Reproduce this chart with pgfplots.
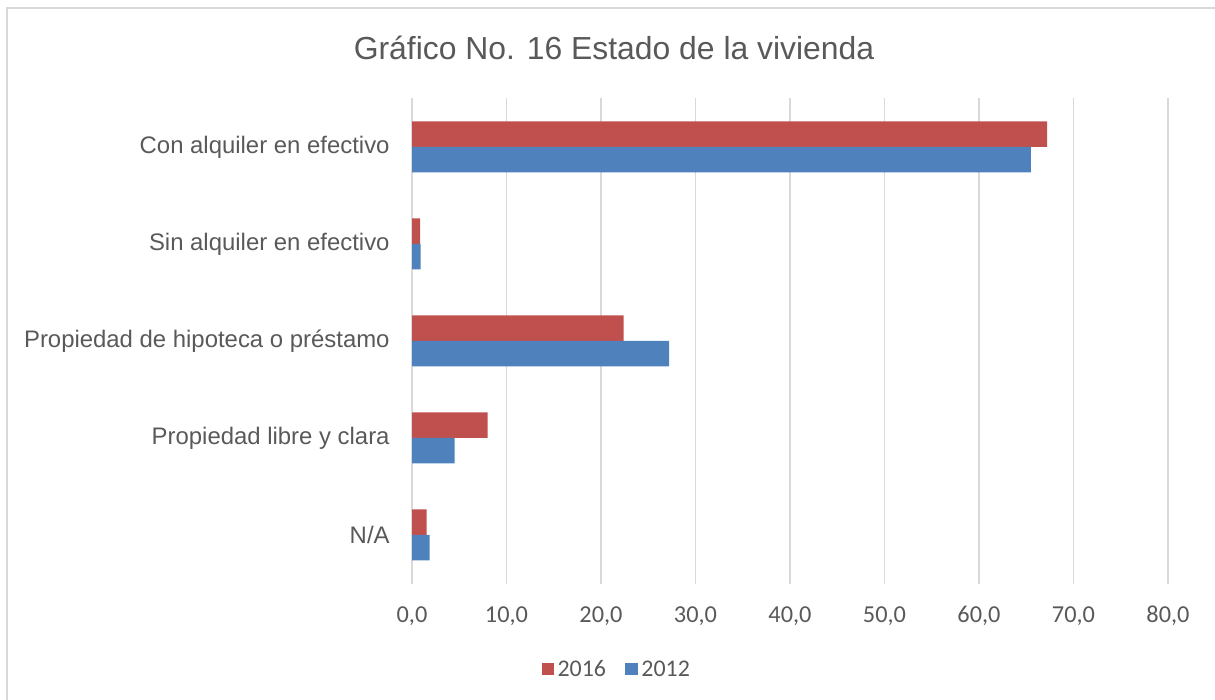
\documentclass[border=0pt]{standalone}
\usepackage{pgfplots}
\pgfplotsset{compat=1.18}
\usepackage{fontspec}
\setmainfont{Liberation Sans}
\newfontfamily\carlito{Carlito}
\definecolor{red16}{HTML}{C0504D}
\definecolor{blue12}{HTML}{4F81BD}
\definecolor{txt}{HTML}{595959}
\definecolor{gridc}{HTML}{D9D9D9}
\begin{document}
\begin{tikzpicture}
\useasboundingbox (0,0) rectangle (607.5bp,350bp);
\begin{scope}
\clip (0,0) rectangle (607.5bp,350bp);
\draw[gridc, line width=0.75bp] (3.4bp,-5bp) -- (3.4bp,346bp) -- (620bp,346bp);
\end{scope}
\node[anchor=base, text=txt, font=\fontsize{16}{19}\selectfont, inner sep=0pt] at (307bp,320bp) {Gráfico No. 16 Estado de la vivienda};
\begin{axis}[
  at={(206bp,58.25bp)}, anchor=south west, scale only axis,
  width=378bp, height=242.6bp,
  xbar, bar width=12.75bp,
  xmin=0, xmax=80, ymin=-0.5, ymax=4.5, enlargelimits=false,
  xtick={0,10,...,80}, ytick={0,1,2,3,4},
  yticklabels={N/A, Propiedad libre y clara, Propiedad de hipoteca o préstamo, Sin alquiler en efectivo, Con alquiler en efectivo},
  axis line style={draw=none},
  major tick length=0pt,
  xmajorgrids, ymajorgrids=false,
  major grid style={gridc, line width=0.75bp},
  xticklabel style={font=\carlito\fontsize{12.2}{14}\selectfont, text=txt, anchor=base, inner sep=0pt, yshift=-19.3bp},
  yticklabel style={font=\fontsize{12}{14}\selectfont, text=txt, anchor=east, inner sep=0pt, xshift=-11bp},
  /pgf/number format/.cd, fixed, fixed zerofill, precision=1, use comma, assume math mode=true,
  /pgfplots/.cd,
  legend style={at={(0.2718,-0.176)}, anchor=center, draw=none, fill=none,
    font=\carlito\fontsize{12}{14}\selectfont, text=txt, inner sep=0pt,
    /tikz/every even column/.append style={column sep=8bp},
    nodes={inner sep=1.7bp, text height=7.4bp, text depth=0pt}},
  legend columns=2,
  legend image code/.code={\fill[#1] (0bp,-3.15bp) rectangle (6.3bp,3.15bp);},
]
\addplot[fill=red16, draw=none, bar shift=6.375bp] coordinates {(67.2,4) (0.85,3) (22.4,2) (8.0,1) (1.56,0)};
\addplot[fill=blue12, draw=none, bar shift=-6.375bp] coordinates {(65.5,4) (0.92,3) (27.2,2) (4.5,1) (1.87,0)};
\legend{2016,2012}
\end{axis}
\end{tikzpicture}
\end{document}
